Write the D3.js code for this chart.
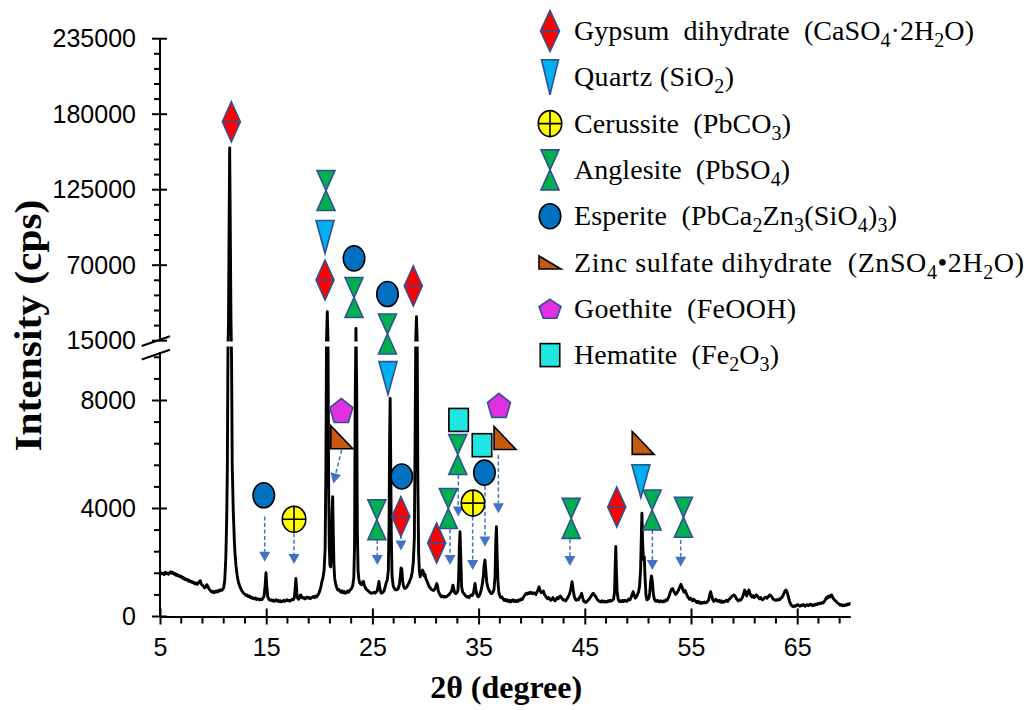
<!DOCTYPE html>
<html>
<head>
<meta charset="utf-8">
<script src="https://cdn.jsdelivr.net/npm/d3@7"></script>
<style>
  body { margin: 0; background: #fff; }
  svg { display: block; }
</style>
</head>
<body>
<svg id="chart" width="1031" height="710"></svg>
<script>
// XRD pattern of the sample: [2θ (degree), intensity (cps)]
const pattern = [
  [5.0,1560],[5.1,1620],[5.2,1580],[5.3,1600],[5.4,1550],[5.5,1640],[5.6,1590],[5.7,1610],[5.8,1570],[5.9,1620],
  [6.0,1660],[6.1,1600],[6.2,1640],[6.3,1570],[6.4,1590],[6.5,1530],[6.6,1560],[6.7,1500],[6.8,1520],[6.9,1470],
  [7.0,1490],[7.1,1420],[7.2,1440],[7.3,1380],[7.4,1400],[7.5,1350],[7.6,1370],[7.7,1310],[7.8,1330],[7.9,1280],
  [8.0,1300],[8.1,1250],[8.2,1260],[8.3,1210],[8.4,1240],[8.5,1190],[8.6,1230],[8.7,1300],[8.8,1320],[8.9,1200],
  [9.0,1150],[9.1,1120],[9.2,1060],[9.3,1090],[9.4,1180],[9.5,1120],[9.6,1030],[9.7,980],[9.8,940],[9.9,900],
  [10.0,930],[10.1,880],[10.2,920],[10.3,950],[10.4,910],[10.5,960],[10.6,940],[10.7,990],[10.8,970],[10.9,1000],
  [11.0,1080],[11.1,1350],[11.2,2200],[11.28,3600],[11.34,5400],[11.4,10000],[11.45,28000],[11.5,90000],[11.56,155400],
  [11.62,95000],[11.68,32000],[11.74,9500],[11.8,5600],[11.9,3900],[12.0,2800],[12.06,2350],[12.15,1900],[12.28,1470],
  [12.4,1250],[12.55,1080],[12.7,960],[12.85,870],[13.0,820],[13.1,780],[13.2,800],[13.3,740],[13.4,760],[13.5,700],
  [13.6,720],[13.7,670],[13.8,690],[13.9,650],[14.0,680],[14.1,630],[14.2,660],[14.3,640],[14.4,610],[14.5,650],
  [14.6,630],[14.7,680],[14.8,760],[14.9,1150],[14.98,1620],[15.06,1100],[15.15,720],[15.25,640],[15.35,600],[15.45,620],
  [15.55,580],[15.65,610],[15.75,560],[15.85,590],[15.95,620],[16.05,570],[16.15,600],[16.25,550],[16.35,580],[16.45,540],
  [16.55,570],[16.65,600],[16.75,560],[16.85,590],[16.95,620],[17.05,580],[17.15,600],[17.25,570],[17.35,610],[17.45,640],
  [17.55,620],[17.65,700],[17.72,1000],[17.8,1410],[17.88,900],[17.95,680],[18.05,640],[18.15,700],[18.25,800],[18.35,720],
  [18.45,680],[18.55,700],[18.65,650],[18.75,690],[18.85,720],[18.95,680],[19.05,700],[19.15,660],[19.25,690],[19.35,720],
  [19.45,740],[19.55,700],[19.65,760],[19.75,730],[19.85,790],[19.95,850],[20.05,950],[20.15,1100],[20.25,1300],[20.35,1450],
  [20.45,1700],[20.55,2500],[20.62,5500],[20.68,15000],[20.75,36100],[20.82,15000],[20.88,4800],[20.94,2600],[21.0,1900],
  [21.07,1840],[21.14,2400],[21.2,3800],[21.26,4440],[21.32,3000],[21.38,1900],[21.45,1400],[21.55,1200],[21.65,1050],
  [21.75,980],[21.85,1000],[21.95,940],[22.05,900],[22.15,950],[22.25,880],[22.35,920],[22.45,860],[22.55,890],[22.65,940],
  [22.75,900],[22.85,960],[22.95,1000],[23.05,1050],[23.15,1150],[23.25,1450],[23.32,2600],[23.38,8000],[23.45,24000],
  [23.52,8500],[23.58,3200],[23.65,1700],[23.72,1400],[23.8,1250],[23.9,1200],[24.0,1180],[24.08,1280],[24.15,1300],
  [24.25,1150],[24.35,1050],[24.45,1000],[24.55,970],[24.65,930],[24.75,900],[24.85,870],[24.95,860],[25.05,880],[25.15,900],
  [25.25,870],[25.35,900],[25.45,950],[25.55,1150],[25.62,1300],[25.7,1050],[25.8,880],[25.9,860],[26.0,900],[26.1,950],
  [26.2,1100],[26.3,1250],[26.4,1350],[26.5,1700],[26.57,3500],[26.62,6500],[26.67,8080],[26.72,6000],[26.78,3000],
  [26.85,1500],[26.95,1150],[27.05,1050],[27.15,1000],[27.25,980],[27.35,1000],[27.45,1050],[27.55,1200],[27.63,1500],
  [27.7,1800],[27.77,1750],[27.85,1300],[27.95,1100],[28.05,1040],[28.15,1060],[28.25,1100],[28.35,1180],[28.45,1250],
  [28.55,1350],[28.65,1450],[28.75,1650],[28.85,2000],[28.95,2900],[29.02,6500],[29.08,15000],[29.15,32500],[29.22,15000],
  [29.28,5000],[29.35,2400],[29.42,1700],[29.5,1470],[29.58,1550],[29.65,1600],[29.72,1720],[29.8,1650],[29.88,1500],
  [29.95,1560],[30.05,1380],[30.15,1300],[30.25,1200],[30.35,1100],[30.45,1060],[30.55,1000],[30.65,980],[30.75,960],
  [30.85,1000],[30.95,1080],[31.05,1220],[31.12,1150],[31.2,950],[31.3,850],[31.4,780],[31.5,730],[31.6,760],[31.7,720],
  [31.8,750],[31.9,720],[32.0,740],[32.1,780],[32.2,800],[32.3,860],[32.4,900],[32.5,1000],[32.58,1160],[32.65,1050],
  [32.75,880],[32.85,850],[32.95,880],[33.05,950],[33.12,1400],[33.18,2500],[33.25,3140],[33.32,2200],[33.4,1100],
  [33.5,900],[33.6,860],[33.7,800],[33.8,760],[33.9,720],[34.0,740],[34.1,700],[34.2,760],[34.3,800],[34.4,780],
  [34.5,850],[34.6,1050],[34.66,1220],[34.74,1000],[34.85,800],[34.95,730],[35.05,760],[35.15,850],[35.25,1000],
  [35.35,1200],[35.45,1500],[35.52,1900],[35.6,2090],[35.68,1700],[35.76,1300],[35.85,1100],[35.95,1000],[36.05,920],
  [36.15,860],[36.25,850],[36.35,900],[36.45,1000],[36.55,1500],[36.62,2800],[36.68,3330],[36.75,2200],[36.82,1300],
  [36.9,900],[37.0,760],[37.1,700],[37.2,720],[37.3,650],[37.4,600],[37.5,640],[37.6,580],[37.7,620],[37.8,560],
  [37.9,600],[38.0,540],[38.1,580],[38.2,620],[38.3,560],[38.4,600],[38.5,550],[38.6,590],[38.7,560],[38.8,620],
  [38.9,600],[39.0,650],[39.1,630],[39.2,700],[39.3,760],[39.4,820],[39.5,860],[39.6,830],[39.7,880],[39.8,850],
  [39.9,900],[40.0,870],[40.1,840],[40.2,880],[40.3,860],[40.4,820],[40.5,900],[40.6,1000],[40.7,1100],[40.8,950],
  [40.9,880],[41.0,900],[41.1,940],[41.2,820],[41.3,760],[41.4,700],[41.5,660],[41.6,700],[41.7,640],[41.8,600],
  [41.9,650],[42.0,700],[42.1,620],[42.2,580],[42.3,640],[42.4,700],[42.5,660],[42.6,720],[42.7,760],[42.8,700],
  [42.9,640],[43.0,600],[43.1,620],[43.2,580],[43.3,640],[43.4,700],[43.5,780],[43.6,880],[43.7,1050],[43.8,1290],
  [43.9,1000],[44.0,760],[44.1,640],[44.2,600],[44.3,640],[44.4,620],[44.5,700],[44.6,760],[44.7,860],[44.8,700],
  [44.9,560],[45.0,540],[45.1,520],[45.2,560],[45.3,600],[45.4,640],[45.5,700],[45.6,760],[45.7,820],[45.8,860],
  [45.9,800],[46.0,760],[46.1,680],[46.2,620],[46.3,580],[46.4,560],[46.5,540],[46.6,580],[46.7,540],[46.8,570],
  [46.9,530],[47.0,560],[47.1,540],[47.2,580],[47.3,560],[47.4,600],[47.5,570],[47.6,600],[47.7,640],[47.8,900],
  [47.86,1800],[47.92,2590],[47.98,1600],[48.05,900],[48.15,620],[48.25,560],[48.35,580],[48.45,550],[48.55,600],
  [48.65,560],[48.75,600],[48.85,580],[48.95,560],[49.05,600],[49.15,650],[49.25,620],[49.35,700],[49.45,800],
  [49.55,920],[49.65,800],[49.75,680],[49.85,720],[49.95,800],[50.05,900],[50.15,1100],[50.25,1700],[50.32,2900],
  [50.38,3830],[50.44,2800],[50.52,2100],[50.6,2210],[50.68,1400],[50.76,800],[50.85,620],[50.95,640],[51.05,700],
  [51.12,900],[51.2,1300],[51.28,1500],[51.36,1300],[51.45,850],[51.55,640],[51.65,580],[51.75,560],[51.85,600],
  [51.95,560],[52.05,540],[52.15,580],[52.25,560],[52.35,540],[52.45,580],[52.55,560],[52.65,620],[52.75,600],
  [52.85,680],[52.95,760],[53.05,900],[53.15,1000],[53.25,1040],[53.35,960],[53.45,880],[53.55,820],[53.65,860],
  [53.75,920],[53.85,1000],[53.95,1100],[54.05,1190],[54.15,1100],[54.25,980],[54.35,900],[54.45,960],[54.55,860],
  [54.65,760],[54.75,700],[54.85,640],[54.95,680],[55.05,620],[55.15,580],[55.25,640],[55.35,600],[55.45,560],
  [55.55,520],[55.65,560],[55.75,500],[55.85,540],[55.95,480],[56.05,520],[56.15,500],[56.25,540],[56.35,500],
  [56.45,520],[56.55,560],[56.65,600],[56.75,780],[56.85,920],[56.95,760],[57.05,620],[57.15,560],[57.25,600],
  [57.35,640],[57.45,580],[57.55,560],[57.65,600],[57.75,540],[57.85,580],[57.95,520],[58.05,560],[58.15,540],
  [58.25,580],[58.35,600],[58.45,560],[58.55,620],[58.65,660],[58.75,700],[58.85,740],[58.95,780],[59.05,800],
  [59.15,760],[59.25,680],[59.35,620],[59.45,580],[59.55,620],[59.65,600],[59.75,640],[59.85,720],[59.95,820],
  [60.05,980],[60.15,900],[60.25,760],[60.35,900],[60.45,980],[60.55,860],[60.65,760],[60.75,720],[60.85,780],
  [60.95,700],[61.05,740],[61.15,800],[61.25,760],[61.35,700],[61.45,660],[61.55,700],[61.65,640],[61.75,620],
  [61.85,660],[61.95,700],[62.05,720],[62.15,680],[62.25,720],[62.35,780],[62.45,800],[62.55,760],[62.65,700],
  [62.75,640],[62.85,620],[62.95,600],[63.05,620],[63.15,600],[63.25,640],[63.35,620],[63.45,680],[63.55,700],
  [63.65,760],[63.75,860],[63.85,940],[63.95,980],[64.05,900],[64.15,760],[64.25,600],[64.35,480],[64.45,420],
  [64.55,380],[64.65,360],[64.75,400],[64.85,380],[64.95,420],[65.05,440],[65.15,400],[65.25,380],[65.35,420],
  [65.45,400],[65.55,440],[65.65,420],[65.75,380],[65.85,420],[65.95,440],[66.05,400],[66.15,430],[66.25,460],
  [66.35,420],[66.45,400],[66.55,440],[66.65,420],[66.75,460],[66.85,440],[66.95,480],[67.05,460],[67.15,500],
  [67.25,480],[67.35,520],[67.45,500],[67.55,560],[67.65,620],[67.75,700],[67.85,680],[67.95,760],[68.05,720],
  [68.15,780],[68.25,800],[68.35,700],[68.45,640],[68.55,600],[68.65,560],[68.75,520],[68.85,480],[68.95,460],
  [69.05,420],[69.15,440],[69.25,400],[69.35,420],[69.45,400],[69.55,440],[69.65,420],[69.75,460],[69.85,440],
  [69.95,480],[70.0,470]
];

// Phase markers placed over the pattern: [phase, 2θ, intensity level]
const phaseMarks = [
  ["gypsum", 11.72, 174500],
  ["anglesite", 20.63, 124400], ["quartz", 20.54, 90500], ["gypsum", 20.54, 59200],
  ["esperite", 23.27, 75000], ["anglesite", 23.27, 46500],
  ["esperite", 26.42, 49000], ["anglesite", 26.42, 19900], ["quartz", 26.47, 8830],
  ["gypsum", 28.85, 54850],
  ["esperite", 14.77, 4490], ["cerussite", 17.62, 3600],
  ["goethite", 22.07, 7630], ["zinc", 22.12, 6640],
  ["anglesite", 25.42, 3585],
  ["esperite", 27.76, 5185], ["gypsum", 27.68, 3700],
  ["gypsum", 31.05, 2720], ["anglesite", 32.15, 4000],
  ["hematite", 33.12, 7280], ["anglesite", 33.04, 6000],
  ["cerussite", 34.47, 4200],
  ["hematite", 35.32, 6345], ["esperite", 35.55, 5330],
  ["goethite", 36.92, 7820], ["zinc", 37.49, 6610],
  ["anglesite", 43.72, 3635],
  ["gypsum", 48.01, 4055],
  ["zinc", 50.5, 6430], ["quartz", 50.28, 5010],
  ["anglesite", 51.34, 3945],
  ["anglesite", 54.29, 3675]
];

// Dashed pointers from a marker down to its reflection: [2θ from, I from, 2θ to, I to]
const pointers = [
  [14.86, 3700, 14.86, 2030],
  [17.62, 3080, 17.62, 1945],
  [22.11, 6170, 21.32, 4930],
  [25.46, 2830, 25.46, 1910],
  [27.69, 3020, 27.69, 2440],
  [32.31, 3230, 32.31, 1910],
  [33.09, 5240, 33.09, 3700],
  [34.44, 3700, 34.44, 1720],
  [35.60, 4830, 35.60, 2590],
  [36.86, 5980, 36.86, 3820],
  [43.60, 2860, 43.60, 1870],
  [51.36, 3200, 51.36, 1720],
  [54.03, 2830, 54.03, 1840]
];

// Axis ticks
const xMajorTicks = [5, 15, 25, 35, 45, 55, 65];
const yUpperTicks = [15000, 70000, 125000, 180000, 235000];
const yLowerTicks = [0, 4000, 8000];

// Legend entries: phase key and label pieces ([text, isSubscript])
const legendPhases = ["gypsum", "quartz", "cerussite", "anglesite", "esperite", "zinc", "goethite", "hematite"];
const legendLabels = [
  [["Gypsum  dihydrate  (CaSO", 0], ["4", 1], ["\u00b72H", 0], ["2", 1], ["O)", 0]],
  [["Quartz (SiO", 0], ["2", 1], [")", 0]],
  [["Cerussite  (PbCO", 0], ["3", 1], [")", 0]],
  [["Anglesite  (PbSO", 0], ["4", 1], [")", 0]],
  [["Esperite  (PbCa", 0], ["2", 1], ["Zn", 0], ["3", 1], ["(SiO", 0], ["4", 1], [")", 0], ["3", 1], [")", 0]],
  [["Zinc sulfate dihydrate  (ZnSO", 0], ["4", 1], ["\u20222H", 0], ["2", 1], ["O)", 0]],
  [["Goethite  (FeOOH)", 0]],
  [["Hematite  (Fe", 0], ["2", 1], ["O", 0], ["3", 1], [")", 0]]
];
const legendWidths = [400, 160, 217, 216, 323, 450, 222, 205];

// ---- styling ----
const phaseStyle = {
  gypsum:    { fill: "#FF0000", stroke: "#2F528F", w: 18,   h: 40 },
  quartz:    { fill: "#00B0F0", stroke: "#2F528F", w: 18,   h: 33 },
  cerussite: { fill: "#FFFF00", stroke: "#000000", w: 23.5, h: 26 },
  anglesite: { fill: "#00B050", stroke: "#2F528F", w: 18,   h: 40 },
  esperite:  { fill: "#0070C0", stroke: "#000000", w: 21.5, h: 25 },
  zinc:      { fill: "#C55A11", stroke: "#000000", w: 22,   h: 23 },
  goethite:  { fill: "#E030E0", stroke: "#2F528F", w: 23,   h: 24 },
  hematite:  { fill: "#1FE6E0", stroke: "#000000", w: 19.5, h: 23 }
};
const legendSizeOverride = { zinc: { w: 22, h: 13 }, goethite: { w: 22, h: 19 }, gypsum: { w: 19, h: 41 }, quartz: { w: 17, h: 35 } };

const serif = "'Liberation Serif','Times New Roman',Times,serif";
const sans = "'Liberation Sans',Arial,Helvetica,sans-serif";

const svg = d3.select("#chart");

// ---- scales: x linear, y split into a low and a high segment ----
const x = d3.scaleLinear().domain([5, 70]).range([160, 850.3]);
const yLow = d3.scaleLinear().domain([0, 10000]).range([616.5, 346.5]);
const yHigh = d3.scaleLinear().domain([15000, 235000]).range([340.7, 38.7]);
const yGap = d3.scaleLinear().domain([10000, 15000]).range([346.5, 340.7]);
const y = v => v <= 10000 ? yLow(v) : (v >= 15000 ? yHigh(v) : yGap(v));

const gapTop = 341.6, gapBottom = 346.4;

// ---- clip regions for the broken axis ----
const defs = svg.append("defs");
defs.append("clipPath").attr("id", "clipHigh")
  .append("rect").attr("x", 0).attr("y", 0).attr("width", 1031).attr("height", gapTop);
defs.append("clipPath").attr("id", "clipLow")
  .append("rect").attr("x", 0).attr("y", gapBottom).attr("width", 1031).attr("height", 710 - gapBottom);

// ---- pattern line ----
const line = d3.line().x(d => x(d[0])).y(d => y(d[1]));
["clipHigh", "clipLow"].forEach(id => {
  svg.append("path")
    .datum(pattern)
    .attr("clip-path", `url(#${id})`)
    .attr("fill", "none")
    .attr("stroke", "#000")
    .attr("stroke-width", 2.9)
    .attr("stroke-linejoin", "round")
    .attr("d", line);
});

// ---- axes ----
const axisColor = "#000";
const xAxisY = yLow(0);
const xAxis = svg.append("g").attr("transform", `translate(0,${xAxisY})`)
  .call(d3.axisBottom(x).tickValues(xMajorTicks).tickSize(8).tickSizeOuter(0).tickPadding(14).tickFormat(d3.format("d")));
xAxis.select(".domain").attr("stroke", axisColor).attr("stroke-width", 2);
xAxis.selectAll(".tick line").attr("y1", -8).attr("y2", 8).attr("stroke-width", 2);
xAxis.selectAll(".tick text").attr("font-family", sans).attr("font-size", 25).attr("fill", "#000");
const xMinor = d3.range(7, 70, 2).filter(v => !xMajorTicks.includes(v));
xAxis.selectAll(".minor").data(xMinor).join("line")
  .attr("x1", d => x(d)).attr("x2", d => x(d)).attr("y1", 0).attr("y2", 7)
  .attr("stroke", axisColor).attr("stroke-width", 2);

function drawYSegment(scale, majors, minors, yTop, yBottom) {
  const g = svg.append("g").attr("transform", "translate(160,0)");
  g.append("line").attr("x1", 0).attr("x2", 0).attr("y1", yTop).attr("y2", yBottom)
    .attr("stroke", axisColor).attr("stroke-width", 2);
  g.selectAll(".maj").data(majors).join("line")
    .attr("x1", -8).attr("x2", 7).attr("y1", d => scale(d)).attr("y2", d => scale(d))
    .attr("stroke", axisColor).attr("stroke-width", 2);
  g.selectAll(".mnr").data(minors).join("line")
    .attr("x1", -6).attr("x2", 0).attr("y1", d => scale(d)).attr("y2", d => scale(d))
    .attr("stroke", axisColor).attr("stroke-width", 2);
  g.selectAll(".lbl").data(majors).join("text")
    .attr("x", -24).attr("y", d => scale(d)).attr("dy", "0.35em")
    .attr("text-anchor", "end").attr("font-family", sans).attr("font-size", 25).attr("fill", "#000")
    .text(d => d3.format("d")(d));
}
const upperMinors = d3.range(15000, 235001, 11000).filter(v => !yUpperTicks.includes(v));
const lowerMinors = d3.range(800, 9601, 800).filter(v => !yLowerTicks.includes(v));
drawYSegment(yHigh, yUpperTicks, upperMinors, yHigh(235000), yHigh(15000));
drawYSegment(yLow, yLowerTicks, lowerMinors, yLow(0), yLow(9800));

// break marks on the y axis
const breakTop = yHigh(15000), breakBottom = yLow(9800);
[breakTop - 1, breakBottom + 1.3].forEach(cy => {
  svg.append("line")
    .attr("x1", 160 - 18.3).attr("y1", cy + 6.3)
    .attr("x2", 160 + 10).attr("y2", cy - 3.4)
    .attr("stroke", "#000").attr("stroke-width", 2);
});

// ---- axis titles ----
svg.append("text")
  .attr("x", (x(5) + x(70)) / 2 + 1).attr("y", 698)
  .attr("text-anchor", "middle")
  .attr("font-family", serif).attr("font-weight", "bold").attr("font-size", 32)
  .text("2\u03b8 (degree)");

svg.append("text")
  .attr("transform", `translate(41,${(yHigh(235000) + yLow(0)) / 2 - 2}) rotate(-90)`)
  .attr("text-anchor", "middle")
  .attr("font-family", serif).attr("font-weight", "bold").attr("font-size", 38)
  .attr("textLength", 252).attr("lengthAdjust", "spacingAndGlyphs")
  .text("Intensity (cps)");

// ---- marker shapes ----
function drawShape(g, phase, w, h) {
  const st = phaseStyle[phase];
  const common = s => s.attr("fill", st.fill).attr("stroke", st.stroke).attr("stroke-width", 1.6).attr("stroke-linejoin", "miter");
  const hw = w / 2, hh = h / 2;
  if (phase === "gypsum") {
    common(g.append("path").attr("d", `M0,${-hh}L${hw},0L0,${hh}L${-hw},0Z`));
    g.append("line").attr("x1", -hw).attr("x2", hw).attr("y1", 0).attr("y2", 0)
      .attr("stroke", st.stroke).attr("stroke-width", 1.6);
  } else if (phase === "quartz") {
    common(g.append("path").attr("d", `M${-hw},${-hh}L${hw},${-hh}L0,${hh}Z`));
  } else if (phase === "anglesite") {
    common(g.append("path").attr("d", `M${-hw},${-hh}L${hw},${-hh}L0,0Z`));
    common(g.append("path").attr("d", `M0,0L${hw},${hh}L${-hw},${hh}Z`));
  } else if (phase === "esperite") {
    common(g.append("ellipse").attr("rx", hw).attr("ry", hh));
  } else if (phase === "cerussite") {
    common(g.append("ellipse").attr("rx", hw).attr("ry", hh));
    g.append("path").attr("d", `M${-hw},0L${hw},0M0,${-hh}L0,${hh}`)
      .attr("stroke", "#000").attr("stroke-width", 1.6);
  } else if (phase === "zinc") {
    common(g.append("path").attr("d", `M${-hw},${-hh}L${-hw},${hh}L${hw},${hh}Z`));
  } else if (phase === "goethite") {
    const pts = d3.range(5).map(i => {
      const a = -Math.PI / 2 + i * 2 * Math.PI / 5;
      return [Math.cos(a) * hw / Math.cos(Math.PI / 10), Math.sin(a) * h / 1.809 + h * 0.053];
    });
    common(g.append("path").attr("d", "M" + pts.map(p => p.join(",")).join("L") + "Z"));
  } else if (phase === "hematite") {
    common(g.append("rect").attr("x", -hw).attr("y", -hh).attr("width", w).attr("height", h));
  }
}

// ---- pointers (dashed arrows) ----
const arrowColor = "#4472C4";
const pg = svg.append("g");
pointers.forEach(([t1, v1, t2, v2]) => {
  const x1 = x(t1), y1 = y(v1), x2 = x(t2), y2 = y(v2);
  const len = Math.hypot(x2 - x1, y2 - y1);
  const ux = (x2 - x1) / len, uy = (y2 - y1) / len;
  const head = 10, half = 5.5;
  const bx = x2 - ux * head, by = y2 - uy * head;
  pg.append("line").attr("x1", x1).attr("y1", y1).attr("x2", bx).attr("y2", by)
    .attr("stroke", arrowColor).attr("stroke-width", 1.5).attr("stroke-dasharray", "4,2.5");
  pg.append("path")
    .attr("d", `M${x2},${y2}L${bx - uy * half},${by + ux * half}L${bx + uy * half},${by - ux * half}Z`)
    .attr("fill", arrowColor);
});

// ---- phase markers ----
const mg = svg.append("g");
phaseMarks.forEach(([phase, t, v]) => {
  const st = phaseStyle[phase];
  drawShape(mg.append("g").attr("transform", `translate(${x(t)},${y(v)})`), phase, st.w, st.h);
});

// ---- legend ----
const legendTop = 40, legendStep = 46.3, legendMarkX = 550, legendTextX = 574;
legendPhases.forEach((phase, i) => {
  const base = legendTop + i * legendStep;
  const st = phaseStyle[phase];
  const sz = legendSizeOverride[phase] || st;
  drawShape(svg.append("g").attr("transform", `translate(${legendMarkX},${base - 9})`), phase, sz.w, sz.h);
  const txt = svg.append("text")
    .attr("x", legendTextX).attr("y", base)
    .attr("font-family", serif).attr("font-size", 28).attr("fill", "#000")
    .attr("xml:space", "preserve")
    .attr("textLength", legendWidths[i]).attr("lengthAdjust", "spacing");
  let shifted = false;
  legendLabels[i].forEach(([s, sub]) => {
    const span = txt.append("tspan").text(s);
    if (sub && !shifted) { span.attr("dy", 7).attr("font-size", 20); shifted = true; }
    else if (sub) { span.attr("font-size", 20); }
    else if (shifted) { span.attr("dy", -7); shifted = false; }
  });
});
</script>
</body>
</html>
